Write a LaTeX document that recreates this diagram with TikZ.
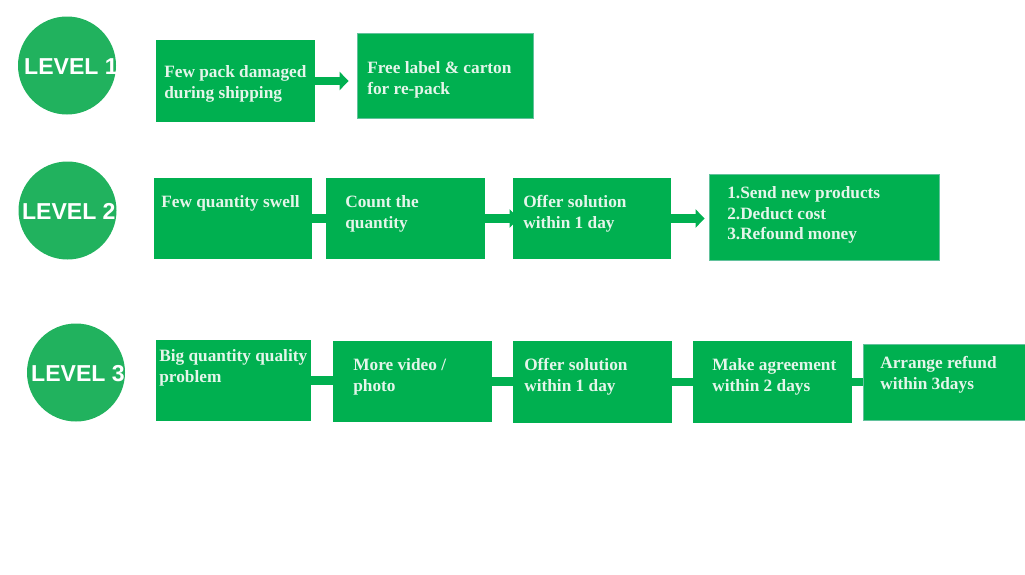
\documentclass[tikz,border=0pt]{standalone}
\usepackage{fontspec}
\setmainfont{Liberation Serif}
\setsansfont{Liberation Sans}
\usepackage{tikz}
\usetikzlibrary{arrows.meta,positioning,backgrounds,calc}
\definecolor{stepgreen} {HTML}{00B050}
\definecolor{levelgreen}{HTML}{21B25E}
\definecolor{paletext}  {HTML}{E4F5EA}
\definecolor{edgeteal}  {HTML}{62C29C}

\begin{document}
\begin{tikzpicture}[
  lvl/.style={circle,fill=levelgreen,minimum size=2.45cm,inner sep=0pt},
  lvltxt/.style={inner sep=0pt,text=white,
                 font=\sffamily\bfseries\fontsize{16.4}{18}\selectfont},
  box/.style={rectangle,fill=stepgreen,inner sep=0pt,
              minimum width=3.975cm,minimum height=2.025cm},
  endbox/.style={box,draw=edgeteal,line width=0.6pt},
  txt/.style={anchor=north west,inner sep=0pt,align=left,text=paletext,
              font=\bfseries\fontsize{12.3}{14.6}\selectfont},
  link/.style={draw=stepgreen,line width=0.22cm},
  arr/.style={link,-{Triangle[width=0.45cm,length=0.225cm]}}
]
\useasboundingbox (0,0) rectangle (25.625,-14.375);

% level 1
\node[lvl] (lv1) at (1.675,-1.6375) {};
\node[lvltxt] (tlv1) at (1.775,-1.66) {LEVEL 1};
\node[box,minimum height=2.05cm] (damaged) at (5.8875,-2.025) {};
\node[endbox,minimum width=4.4cm,minimum height=2.125cm] (repack) at (11.125,-1.8875) {};
\node[txt] (tdamaged) at (4.1,-1.635)  {Few pack damaged\\during shipping};
\node[txt] (trepack)  at (9.175,-1.535) {Free label \& carton\\for re-pack};

% level 2
\node[lvl] (lv2) at (1.6875,-5.2625) {};
\node[lvltxt] (tlv2) at (1.72,-5.28) {LEVEL 2};
\node[box,minimum width=3.95cm] (swell) at (5.825,-5.4625) {};
\node[box] (count) at (10.1375,-5.4625) {};
\node[box,minimum width=3.95cm] (offer) at (14.8,-5.4625) {};
\node[endbox,minimum width=5.75cm,minimum height=2.15cm] (remedy) at (20.6,-5.425) {};
\node[txt] (tswell)  at (4.025,-4.885)  {Few quantity swell};
\node[txt] (tcount)  at (8.625,-4.885)  {Count the\\quantity};
\node[txt] (toffer)  at (13.075,-4.885) {Offer solution\\within 1 day};
\node[txt] (tremedy) at (18.175,-4.66)  {1.Send new products\\2.Deduct cost\\3.Refound money};

% level 3
\node[lvl] (lv3) at (1.9,-9.3125) {};
\node[lvltxt] (tlv3) at (1.95,-9.33) {LEVEL 3};
\node[box,minimum width=3.875cm] (bigqty) at (5.8375,-9.5125) {};
\node[box] (video)  at (10.3125,-9.5375) {};
\node[box,minimum height=2.05cm] (offerb) at (14.8125,-9.55) {};
\node[box,minimum height=2.05cm] (agree)  at (19.3125,-9.55) {};
\node[endbox,minimum width=4.125cm,minimum height=1.9cm] (refund) at (23.6375,-9.55) {};
\node[txt] (tbigqty) at (3.975,-8.735) {Big quantity quality\\problem};
\node[txt] (tvideo)  at (8.825,-8.96)  {More video /\\photo};
\node[txt] (tofferb) at (13.1,-8.96)   {Offer solution\\within 1 day};
\node[txt] (tagree)  at (17.8,-8.96)   {Make agreement\\within 2 days};
\node[txt] (trefund) at (22.0,-8.91)   {Arrange refund\\within 3days};

\begin{scope}[on background layer]
\draw[arr,shorten >=0.2cm] (damaged.east) -- (repack.west |- damaged.east);
\draw[link] (swell) -- (count);
\draw[arr,shorten >=-0.15cm] (count) -- (offer);
\draw[arr,shorten >=0.1cm] (offer.east) -- (remedy.west |- offer.east);
\draw[link] (bigqty.east) -- (video.west |- bigqty.east);
\draw[link] (video.east) -- (offerb.west |- video.east);
\draw[link] (offerb) -- (agree);
\draw[link] (agree.east) -- (refund.west |- agree.east);
\end{scope}
\end{tikzpicture}
\end{document}
